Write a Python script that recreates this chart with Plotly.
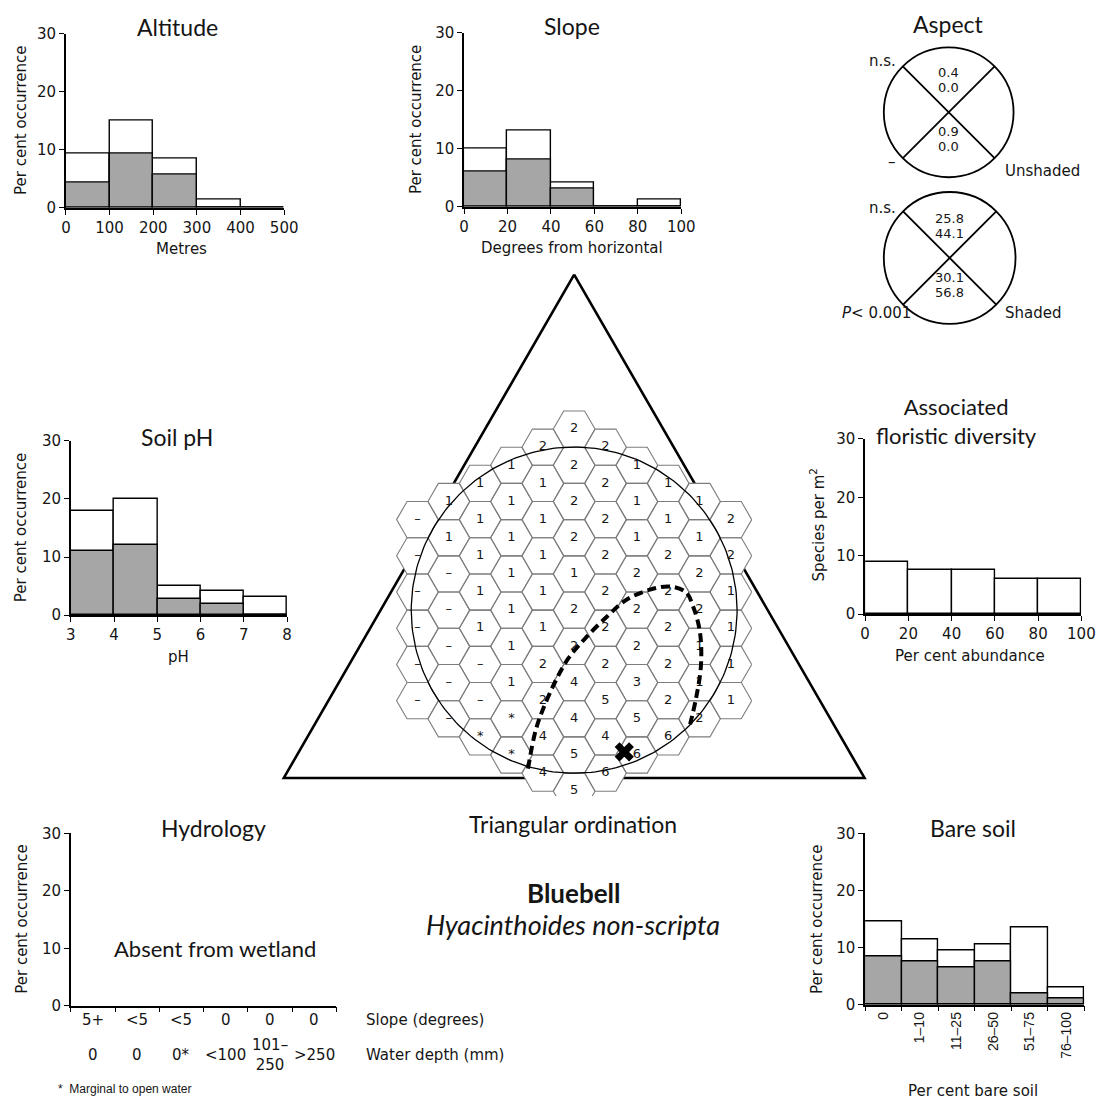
import math
import plotly.graph_objects as go

W, H = 1118, 1116
INK = "#151515"
SANS = "DejaVu Sans"
TITLE = "Lato"
GREY = "#a6a6a6"

# ---------------- histogram data ----------------
alt_edges = [0, 100, 200, 300, 400, 500]
alt_total = [9.3, 15.0, 8.4, 1.4, 0.0]
alt_shaded = [4.3, 9.3, 5.7, 0.0, 0.0]

slope_edges = [0, 20, 40, 60, 80, 100]
slope_total = [10.0, 13.2, 4.2, 0.0, 1.3]
slope_shaded = [6.0, 8.1, 3.2, 0.0, 0.0]

ph_edges = [3, 4, 5, 6, 7, 8]
ph_total = [18.0, 20.0, 5.1, 4.1, 3.1]
ph_shaded = [11.0, 12.0, 2.7, 2.0, 0.0]

div_edges = [0, 20, 40, 60, 80, 100]
div_species = [9.0, 7.6, 7.5, 6.1, 6.1]

bare_labels = ["0", "1–10", "11–25", "26–50", "51–75", "76–100"]
bare_total = [14.5, 11.5, 9.5, 10.5, 13.5, 3.0]
bare_shaded = [8.5, 7.5, 6.5, 7.5, 2.0, 1.0]

hydro_slope = ["5+", "<5", "<5", "0", "0", "0"]
hydro_depth = ["0", "0", "0*", "<100", "101–<br>250", ">250"]

# ---------------- aspect data ----------------
aspect_unshaded_north = ["0.4", "0.0"]
aspect_unshaded_south = ["0.9", "0.0"]
aspect_shaded_north = ["25.8", "44.1"]
aspect_shaded_south = ["30.1", "56.8"]

# ---------------- triangular ordination ----------------
# hexagon labels for each column (left to right), listed top to bottom
hex_columns = {
    -5: ["–", "–", "–", "–", "–", "–"],
    -4: ["1", "1", "–", "–", "–", "–", "–"],
    -3: ["1", "1", "1", "1", "1", "–", "–", "*"],
    -2: ["1", "1", "1", "1", "1", "1", "1", "*", "*"],
    -1: ["2", "1", "1", "1", "1", "1", "2", "2", "4", "4"],
    0: ["2", "2", "2", "2", "1", "2", "2", "4", "4", "5", "5"],
    1: ["2", "2", "2", "2", "2", "2", "2", "5", "4", "6"],
    2: ["1", "1", "1", "2", "2", "2", "3", "5", "6"],
    3: ["1", "1", "2", "2", "2", "2", "2", "6"],
    4: ["1", "1", "2", "2", "1", "1", "2"],
    5: ["2", "2", "1", "1", "1", "1"],
}
# range outline (hex-side units, origin at the centre of the grid)
range_x = [-2.21, -1.84, -1.46, -0.89, -0.28, 0.52, 1.60, 2.54, 3.67, 4.61,
           5.36, 5.69, 6.02, 6.07, 5.84, 5.55]
range_y = [-7.58, -5.74, -4.66, -3.39, -2.31, -1.36, -0.28, 0.52, 0.99, 1.13,
           0.85, 0.19, -1.04, -2.64, -4.19, -5.46]
centroid_x, centroid_y = [2.40], [-6.78]
TRI_R = 16.05      # circumradius of the ordination triangle
CIRCLE_R = 7.8     # radius of the reference circle

fig = go.Figure()


def fx(px):
    return px / W


def fy(py):
    return 1 - py / H


def add_text(text, x, y, size=15, family=SANS, angle=0, xanchor="center",
             yanchor="middle", **kw):
    fig.add_annotation(text=text, x=fx(x), y=fy(y), xref="paper", yref="paper",
                       showarrow=False, textangle=angle, xanchor=xanchor,
                       yanchor=yanchor,
                       font=dict(family=family, size=size, color=INK), **kw)


def names(n):
    return ("xaxis" if n == 1 else f"xaxis{n}",
            "yaxis" if n == 1 else f"yaxis{n}",
            "x" if n == 1 else f"x{n}",
            "y" if n == 1 else f"y{n}")


axis_style = dict(showline=True, linecolor="black", linewidth=1.6,
                  ticks="outside", ticklen=5, tickwidth=1.4, tickcolor="black",
                  showgrid=False, zeroline=False, fixedrange=True,
                  tickfont=dict(family=SANS, size=15, color=INK))


def add_panel(n, box, xrange, xticks=None, xtext=None, xlabels=True,
              tickangle=None, minor=None, xfont=None):
    x0, x1, ytop, ybot = box
    xa, ya, xr, yr = names(n)
    xdict = dict(axis_style, domain=[fx(x0), fx(x1)], range=xrange, anchor=yr,
                 tickmode="array", tickvals=xticks, showticklabels=xlabels)
    if xtext is not None:
        xdict["ticktext"] = xtext
    if tickangle is not None:
        xdict["tickangle"] = tickangle
    if minor is not None:
        xdict["minor"] = minor
    if xfont is not None:
        xdict["tickfont"] = xfont
    ydict = dict(axis_style, domain=[fy(ybot), fy(ytop)], range=[0, 30],
                 anchor=xr, tickmode="array", tickvals=[0, 10, 20, 30])
    fig.update_layout(**{xa: xdict, ya: ydict})
    return xr, yr


def add_bars(n, lefts, widths, values, colour):
    _, _, xr, yr = names(n)
    fig.add_trace(go.Bar(x=lefts, y=values, width=widths, offset=0,
                         marker=dict(color=colour,
                                     line=dict(color="black", width=1.4)),
                         xaxis=xr, yaxis=yr, hoverinfo="skip"))


def hist(n, edges, total, shaded=None):
    lefts = edges[:-1]
    widths = [b - a for a, b in zip(edges[:-1], edges[1:])]
    add_bars(n, lefts, widths, total, "white")
    if shaded is not None:
        add_bars(n, lefts, widths, shaded, GREY)


# Altitude
add_panel(1, (62, 284, 25, 202), [0, 500], alt_edges)
hist(1, alt_edges, alt_total, alt_shaded)
# Slope
add_panel(2, (467, 688, 24, 201), [0, 100], slope_edges)
hist(2, slope_edges, slope_total, slope_shaded)
# Soil pH
add_panel(3, (67, 287, 439, 616), [3, 8], ph_edges)
hist(3, ph_edges, ph_total, ph_shaded)
# Associated floristic diversity
add_panel(4, (875, 1095, 437, 615), [0, 100], div_edges)
hist(4, div_edges, div_species)
# Hydrology (no bars: absent from wetland)
add_panel(5, (67, 337, 838, 1013), [0, 6], list(range(7)), xlabels=False)
fig.add_trace(go.Scatter(x=[], y=[], mode="markers", xaxis="x5", yaxis="y5",
                         hoverinfo="skip"))
# Bare soil
bare_pos = [i + 0.5 for i in range(len(bare_labels))]
add_panel(6, (875, 1098, 838, 1012), [0, 6], bare_pos, bare_labels,
          tickangle=-90,
          minor=dict(tickmode="array", tickvals=list(range(7)),
                     ticks="outside", ticklen=5, tickwidth=1.4,
                     tickcolor="black"),
          xfont=dict(family="Liberation Sans", size=14, color=INK))
fig.update_layout(xaxis6=dict(ticks=""))
hist(6, list(range(7)), bare_total, bare_shaded)

# ---------------- ordination panel ----------------
HEX_PX = 21.25           # pixels per hexagon side
CX_PX, CY_PX = 579, 611  # grid centre on the page
OX0, OX1, OY0, OY1 = 268, 890, 255, 800
fig.update_layout(
    xaxis7=dict(domain=[fx(OX0), fx(OX1)],
                range=[(OX0 - CX_PX) / HEX_PX, (OX1 - CX_PX) / HEX_PX],
                visible=False, anchor="y7", fixedrange=True),
    yaxis7=dict(domain=[fy(OY1), fy(OY0)],
                range=[(CY_PX - OY1) / HEX_PX, (CY_PX - OY0) / HEX_PX],
                visible=False, anchor="x7", fixedrange=True),
)

tri_x, tri_y = [], []
for a in (90, 210, 330, 90):
    tri_x.append(TRI_R * math.cos(math.radians(a)))
    tri_y.append(TRI_R * math.sin(math.radians(a)))
fig.add_trace(go.Scatter(x=tri_x, y=tri_y, mode="lines",
                         line=dict(color="black", width=2.6),
                         xaxis="x7", yaxis="y7", hoverinfo="skip"))

SQ3 = math.sqrt(3)
hx, hy, lx, ly, lt = [], [], [], [], []
for c, labels in hex_columns.items():
    n = len(labels)
    for k, lab in enumerate(labels):
        m = (n - 1) / 2 - k
        cx, cy = 1.5 * c, SQ3 * m
        for a in range(7):
            ang = math.radians(60 * a)
            hx.append(cx + math.cos(ang))
            hy.append(cy + math.sin(ang))
        hx.append(None)
        hy.append(None)
        lx.append(cx)
        ly.append(cy)
        lt.append(lab)
fig.add_trace(go.Scatter(x=hx, y=hy, mode="lines", fill="toself",
                         fillcolor="white",
                         line=dict(color="#7d7d7d", width=1.1),
                         xaxis="x7", yaxis="y7", hoverinfo="skip"))

cxs = [CIRCLE_R * math.cos(2 * math.pi * i / 240) for i in range(241)]
cys = [CIRCLE_R * math.sin(2 * math.pi * i / 240) for i in range(241)]
fig.add_trace(go.Scatter(x=cxs, y=cys, mode="lines",
                         line=dict(color="black", width=1.3),
                         xaxis="x7", yaxis="y7", hoverinfo="skip"))

fig.add_trace(go.Scatter(x=lx, y=ly, mode="text", text=lt,
                         textfont=dict(family=SANS, size=13, color=INK),
                         xaxis="x7", yaxis="y7", hoverinfo="skip"))

fig.add_trace(go.Scatter(x=range_x, y=range_y, mode="lines",
                         line=dict(color="black", width=4, dash="9px,5px",
                                   shape="spline", smoothing=1.0),
                         xaxis="x7", yaxis="y7", hoverinfo="skip"))
fig.add_trace(go.Scatter(x=centroid_x, y=centroid_y, mode="markers",
                         marker=dict(symbol="x", size=17, color="black",
                                     line=dict(width=0)),
                         xaxis="x7", yaxis="y7", hoverinfo="skip"))


# ---------------- aspect circles ----------------
def aspect(cx, cy, r, north, south):
    fig.add_shape(type="circle", xref="paper", yref="paper",
                  x0=fx(cx - r), x1=fx(cx + r), y0=fy(cy + r), y1=fy(cy - r),
                  line=dict(color="black", width=1.8))
    d = r * math.cos(math.radians(45))
    for sx in (-1, 1):
        fig.add_shape(type="line", xref="paper", yref="paper",
                      x0=fx(cx - sx * d), y0=fy(cy - d),
                      x1=fx(cx + sx * d), y1=fy(cy + d),
                      line=dict(color="black", width=1.8))
    add_text(north[0], cx, cy - 40, 13)
    add_text(north[1], cx, cy - 25, 13)
    add_text(south[0], cx, cy + 20, 13)
    add_text(south[1], cx, cy + 35, 13)


aspect(960, 105, 66, aspect_unshaded_north, aspect_unshaded_south)
aspect(961, 253, 67, aspect_shaded_north, aspect_shaded_south)
add_text("n.s.", 908, 53, xanchor="right")
add_text("–", 902, 156)
add_text("Unshaded", 1015, 165, xanchor="left")
add_text("n.s.", 908, 202, xanchor="right")
add_text("<i>P</i>< 0.001", 924, 309, xanchor="right")
add_text("Shaded", 1015, 309, xanchor="left")

# ---------------- titles and axis labels ----------------
add_text("Altitude", 175, 18, 23, TITLE)
add_text("Slope", 577, 17, 23, TITLE)
add_text("Aspect", 960, 15, 23, TITLE)
add_text("Soil pH", 175, 435, 23, TITLE)
add_text("Associated<br>floristic diversity", 968, 419, 22, TITLE)
add_text("Hydrology", 212, 832, 23, TITLE)
add_text("Triangular ordination", 578, 828, 23, TITLE)
add_text("Bare soil", 985, 832, 23, TITLE)
add_text("<b>Bluebell</b>", 578, 898, 26, TITLE)
add_text("<i>Hyacinthoides non-scripta</i>", 578, 931, 27, TITLE)
add_text("Absent from wetland", 214, 955, 22, TITLE)

add_text("Per cent occurrence", 16, 113, angle=-90)
add_text("Per cent occurrence", 418, 112, angle=-90)
add_text("Per cent occurrence", 16, 527, angle=-90)
add_text("Species per m<sup>2</sup>", 826, 524, angle=-90)
add_text("Per cent occurrence", 17, 925, angle=-90)
add_text("Per cent occurrence", 826, 925, angle=-90)

add_text("Metres", 180, 244)
add_text("Degrees from horizontal", 577, 243)
add_text("pH", 177, 659)
add_text("Per cent abundance", 982, 658)
add_text("Per cent bare soil", 985, 1100)

# hydrology category rows
for i, (s, d) in enumerate(zip(hydro_slope, hydro_depth)):
    px = 67 + 45 * (i + 0.5)
    add_text(s, px, 1028)
    add_text(d, px, 1063)
add_text("Slope (degrees)", 365, 1028, xanchor="left")
add_text("Water depth (mm)", 365, 1063, xanchor="left")
add_text("*  Marginal to open water", 52, 1098, 12, "Liberation Sans",
         xanchor="left")

fig.update_layout(
    width=W, height=H, margin=dict(l=0, r=0, t=0, b=0),
    paper_bgcolor="white", plot_bgcolor="rgba(0,0,0,0)",
    showlegend=False, barmode="overlay", bargap=0,
)

fig.write_html("out.html")
